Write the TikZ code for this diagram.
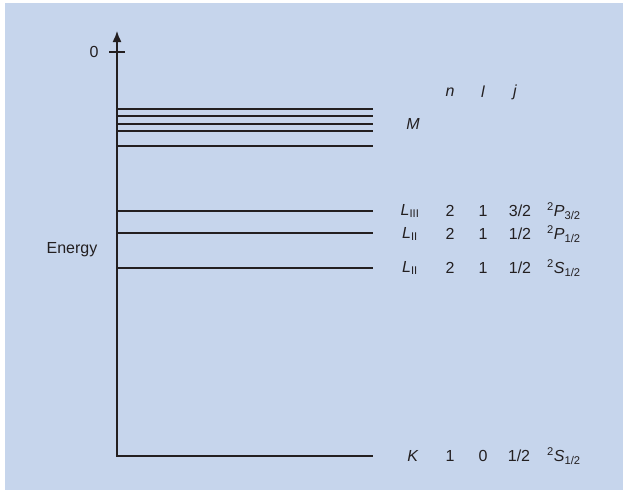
\documentclass[tikz,border=0pt]{standalone}
\usepackage{fontspec}
\setmainfont{Liberation Sans}
\usetikzlibrary{arrows.meta, positioning}
\definecolor{panelblue}{HTML}{C6D5EC}
\definecolor{ink}{HTML}{231F20}

\begin{document}
\begin{tikzpicture}[
    x=1pt, y=-1pt,
    level/.style={ink, line width=1.6pt},
    lbl/.style={inner sep=0pt, text=ink, font=\fontsize{16}{18}\selectfont},
    term/.style={lbl, anchor=west},
    arrow/.style={ink, line width=1.4pt, -{Latex[length=11pt,width=9pt]}}
]
\useasboundingbox (0,0) rectangle (623,490);
\fill[panelblue] (5,3) rectangle (623,490);
% energy axis
\coordinate (origin) at (117,456.5);
\coordinate (top) at (117,31);
\coordinate (tickL) at (109,52);
\coordinate (tickR) at (125,52);
\draw[arrow] (origin) -- (top);
\draw[ink, line width=1.4pt] (tickL) -- (tickR);
\node[lbl] (zero) at (94,52) {0};
\node[lbl] (energy) at (72,250) {Energy};
% levels
\foreach \y in {109,116,124,131,146,211,233,268,456}
  \draw[level] (117,\y) -- (373,\y);
% quantum numbers
\node[lbl] (hn) at (450,92) {\textit{n}};
\node[lbl] (hl) at (483,92) {\textit{l}};
\node[lbl] (hj) at (515,92) {\textit{j}};
\node[lbl] (shM) at (413,124) {\textit{M}};
\foreach \y/\shell/\n/\l/\j/\sym/\sub in {
    211/III/2/1/3\slash 2/P/3\slash 2,
    234/II/2/1/1\slash 2/P/1\slash 2,
    268/II/2/1/1\slash 2/S/1\slash 2}{
  \node[lbl] at (410,\y) {\textit{L}\textsubscript{\shell}};
  \node[lbl] at (450,\y) {\n};
  \node[lbl] at (483,\y) {\l};
  \node[lbl] at (520,\y) {\j};
  \node[term] at (547,\y) {\textsuperscript{2}\textit{\sym}\textsubscript{\sub}};
}
\node[lbl] (shK) at (413,456) {\textit{K}};
\node[lbl] (kn) at (450,456) {1};
\node[lbl] (kl) at (483,456) {0};
\node[lbl] (kj) at (519,456) {1/2};
\node[term] (kterm) at (547,456) {\textsuperscript{2}\textit{S}\textsubscript{1/2}};
\end{tikzpicture}
\end{document}
